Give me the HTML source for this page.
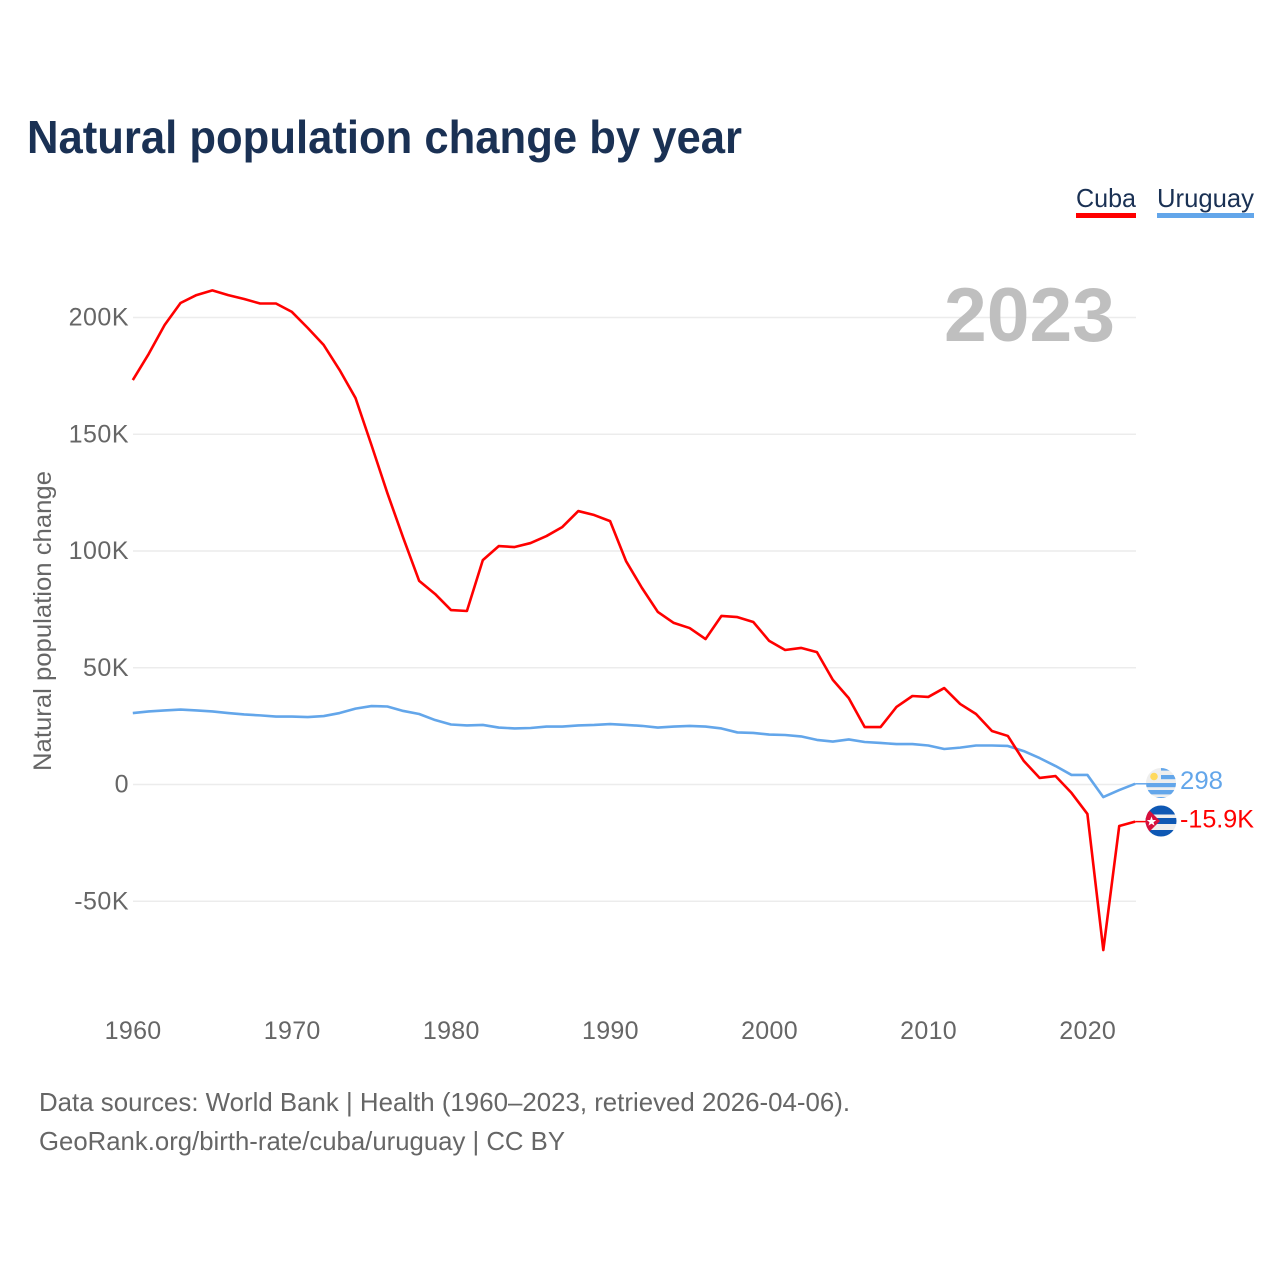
<!DOCTYPE html>
<html>
<head>
<meta charset="utf-8">
<title>Natural population change by year</title>
<style>
html,body{margin:0;padding:0;background:#fff;}
svg{display:block;}
text{font-family:"Liberation Sans",sans-serif;}
</style>
</head>
<body>
<svg id="chart" width="1280" height="1280" viewBox="0 0 1280 1280" xmlns="http://www.w3.org/2000/svg">
  <rect x="0" y="0" width="1280" height="1280" fill="#fff"/>
  <text x="27" y="153" font-size="46" font-weight="700" fill="#1a3154" textLength="715" lengthAdjust="spacingAndGlyphs">Natural population change by year</text>

  <g>
    <text x="1076" y="207" font-size="26" fill="#1a3154" textLength="60" lengthAdjust="spacingAndGlyphs">Cuba</text>
    <rect x="1076" y="213" width="60" height="5" fill="#ff0000"/>
  </g>
  <g>
    <text x="1157" y="207" font-size="26" fill="#1a3154" textLength="97" lengthAdjust="spacingAndGlyphs">Uruguay</text>
    <rect x="1157" y="213" width="97" height="5" fill="#63a6ea"/>
  </g>

  <g id="grid"></g>
  <g id="yticks"></g>
  <g id="xticks"></g>

  <text x="944" y="341" font-size="76" font-weight="700" fill="#bfbfbf" textLength="171" lengthAdjust="spacingAndGlyphs">2023</text>
  <text transform="translate(51,771) rotate(-90)" font-size="25" fill="#666666" textLength="300" lengthAdjust="spacingAndGlyphs">Natural population change</text>

  <g id="series"></g>

  <g id="flag-uruguay">
    <clipPath id="clip-uy"><circle cx="1161" cy="783" r="15"/></clipPath>
    <g clip-path="url(#clip-uy)">
      <rect x="1146" y="768" width="30" height="30" fill="#eeeeee"/>
      <rect x="1161" y="767" width="15" height="3.6" fill="#63a6ea"/>
      <rect x="1161" y="775" width="15" height="4.2" fill="#63a6ea"/>
      <rect x="1146" y="783" width="30" height="4.2" fill="#63a6ea"/>
      <rect x="1146" y="790" width="30" height="4.4" fill="#63a6ea"/>
      <rect x="1146" y="797" width="30" height="3" fill="#63a6ea"/>
      <circle cx="1154" cy="776.5" r="3.8" fill="#ffd95c"/>
    </g>
  </g>
  <g id="flag-cuba">
    <clipPath id="clip-cu"><circle cx="1161" cy="821" r="15.5"/></clipPath>
    <g clip-path="url(#clip-cu)">
      <rect x="1145" y="805" width="32" height="32" fill="#eeeeee"/>
      <rect x="1145" y="805" width="32" height="9.5" fill="#0e58b4"/>
      <rect x="1145" y="818" width="32" height="6" fill="#0e58b4"/>
      <rect x="1145" y="830" width="32" height="7" fill="#0e58b4"/>
      <polygon points="1145,806 1160,821 1145,836" fill="#d80f3c"/>
      <polygon points="1151.5,816.5 1152.8,820 1156.2,820 1153.5,822.2 1154.5,825.6 1151.5,823.6 1148.5,825.6 1149.5,822.2 1146.8,820 1150.2,820" fill="#ffffff"/>
    </g>
  </g>

  <text id="end-uruguay" x="1180" y="789" font-size="25" fill="#63a6ea" textLength="43" lengthAdjust="spacingAndGlyphs">298</text>
  <text id="end-cuba" x="1180" y="827.5" font-size="25" fill="#ff0000" textLength="74" lengthAdjust="spacingAndGlyphs">-15.9K</text>

  <text x="39" y="1111" font-size="26" fill="#666666" textLength="811" lengthAdjust="spacingAndGlyphs">Data sources: World Bank | Health (1960–2023, retrieved 2026-04-06).</text>
  <text x="39" y="1150" font-size="26" fill="#666666" textLength="526" lengthAdjust="spacingAndGlyphs">GeoRank.org/birth-rate/cuba/uruguay | CC BY</text>
</svg>
<script>
const years = [];
for (let yr = 1960; yr <= 2023; yr++) years.push(yr);
const cubaValues = [173.2,184.4,196.8,206.2,209.6,211.6,209.6,207.9,206.0,206.0,202.4,195.5,188.2,177.5,165.5,145.4,124.8,105.6,87.2,81.6,74.7,74.3,96.1,102.1,101.7,103.4,106.4,110.3,117.1,115.4,112.8,95.7,84.2,73.9,69.2,67.0,62.3,72.2,71.7,69.6,61.5,57.6,58.5,56.7,44.8,37.0,24.6,24.6,33.2,37.9,37.5,41.3,34.5,30.2,22.9,20.8,10.1,2.8,3.6,-3.6,-12.6,-70.9,-17.8,-15.9];
const uruguayValues = [30.6,31.3,31.7,32.1,31.7,31.3,30.6,30.0,29.6,29.1,29.1,28.9,29.3,30.6,32.5,33.6,33.4,31.5,30.2,27.6,25.7,25.3,25.5,24.4,24.0,24.2,24.8,24.8,25.3,25.5,25.9,25.5,25.1,24.4,24.8,25.1,24.8,24.0,22.3,22.1,21.4,21.2,20.6,19.1,18.4,19.3,18.2,17.8,17.3,17.3,16.7,15.2,15.8,16.7,16.7,16.5,14.3,11.3,7.9,4.1,4.1,-5.4,-2.4,0.298];
const yTickValues = [200,150,100,50,0,-50];
const yTickLabels = ['200K','150K','100K','50K','0','-50K'];
const xTickValues = [1960,1970,1980,1990,2000,2010,2020];

const NS = 'http://www.w3.org/2000/svg';
function xScale(yr){ return 132.8 + (yr - 1960) * 15.91; }
function yScale(v){ return 784.5 - v * 2.335; }

const grid = document.getElementById('grid');
const yticks = document.getElementById('yticks');
yTickValues.forEach(function(v, i){
  const line = document.createElementNS(NS, 'line');
  
  
  line.setAttribute('x1', 133);
  line.setAttribute('x2', 1136);
  line.setAttribute('y1', yScale(v));
  line.setAttribute('y2', yScale(v));
  line.setAttribute('stroke', '#ececec');
  line.setAttribute('stroke-width', 1.6);
  grid.appendChild(line);
  const t = document.createElementNS(NS, 'text');
  
  
  t.setAttribute('x', 129);
  t.setAttribute('y', yScale(v) + 8);
  t.setAttribute('text-anchor', 'end');
  t.setAttribute('font-size', 25);
  t.setAttribute('letter-spacing', 0.5);
  t.setAttribute('fill', '#666666');
  t.textContent = yTickLabels[i];
  yticks.appendChild(t);
});

const xticks = document.getElementById('xticks');
xTickValues.forEach(function(yr){
  const t = document.createElementNS(NS, 'text');
  
  
  t.setAttribute('x', xScale(yr) + 0.3);
  t.setAttribute('y', 1039);
  t.setAttribute('text-anchor', 'middle');
  t.setAttribute('font-size', 25);
  t.setAttribute('letter-spacing', 0.3);
  t.setAttribute('fill', '#666666');
  t.textContent = String(yr);
  xticks.appendChild(t);
});

function linePoints(values){
  return values.map(function(v, i){
    return xScale(years[i]).toFixed(2) + ',' + yScale(v).toFixed(2);
  }).join(' ');
}
const series = document.getElementById('series');

const uruguayLine = document.createElementNS(NS, 'polyline');


uruguayLine.setAttribute('points', linePoints(uruguayValues));
uruguayLine.setAttribute('fill', 'none');
uruguayLine.setAttribute('stroke', '#63a6ea');
uruguayLine.setAttribute('stroke-width', 2.6);
uruguayLine.setAttribute('stroke-linejoin', 'round');
series.appendChild(uruguayLine);

const cubaLine = document.createElementNS(NS, 'polyline');


cubaLine.setAttribute('points', linePoints(cubaValues));
cubaLine.setAttribute('fill', 'none');
cubaLine.setAttribute('stroke', '#ff0000');
cubaLine.setAttribute('stroke-width', 2.6);
cubaLine.setAttribute('stroke-linejoin', 'round');
series.appendChild(cubaLine);

const uruguayLead = document.createElementNS(NS, 'line');


uruguayLead.setAttribute('x1', xScale(2023));
uruguayLead.setAttribute('x2', 1147);
uruguayLead.setAttribute('y1', yScale(uruguayValues[uruguayValues.length - 1]));
uruguayLead.setAttribute('y2', yScale(uruguayValues[uruguayValues.length - 1]));
uruguayLead.setAttribute('stroke', '#63a6ea');
uruguayLead.setAttribute('stroke-width', 1.5);
series.appendChild(uruguayLead);

const cubaLead = document.createElementNS(NS, 'line');


cubaLead.setAttribute('x1', xScale(2023));
cubaLead.setAttribute('x2', 1147);
cubaLead.setAttribute('y1', yScale(cubaValues[cubaValues.length - 1]));
cubaLead.setAttribute('y2', yScale(cubaValues[cubaValues.length - 1]));
cubaLead.setAttribute('stroke', '#ff0000');
cubaLead.setAttribute('stroke-width', 1.5);
series.appendChild(cubaLead);
</script>
</body>
</html>
